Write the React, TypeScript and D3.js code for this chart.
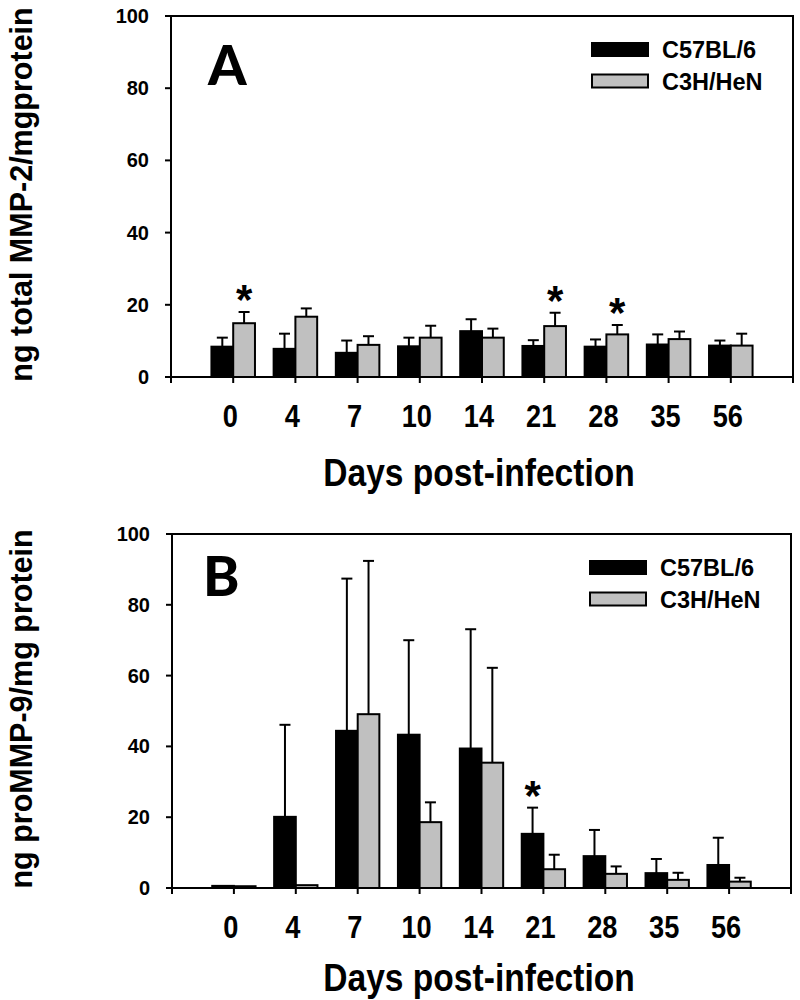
import React from "react";
import * as d3 from "d3";

const days = ["0", "4", "7", "10", "14", "21", "28", "35", "56"];
const seriesNames = ["C57BL/6", "C3H/HeN"];

// Panel A: total MMP-2
const mmp2C57 = [8.4, 7.8, 6.7, 8.5, 12.7, 8.6, 8.4, 9.0, 8.7];
const mmp2C57Err = [2.5, 4.2, 3.4, 2.4, 3.3, 1.6, 2.0, 2.8, 1.4];
const mmp2C3H = [14.9, 16.7, 8.9, 10.9, 10.9, 14.1, 11.8, 10.5, 8.7];
const mmp2C3HErr = [3.1, 2.3, 2.4, 3.3, 2.5, 3.7, 2.6, 2.1, 3.3];
const mmp2Star = [
  { day: "0", series: 1 },
  { day: "21", series: 1 },
  { day: "28", series: 1 },
];

// Panel B: proMMP-9
const mmp9C57 = [0.6, 20.1, 44.4, 43.3, 39.4, 15.3, 9.0, 4.2, 6.5];
const mmp9C57Err = [0, 26.0, 43.0, 26.7, 33.7, 7.4, 7.4, 4.0, 7.7];
const mmp9C3H = [0.5, 0.8, 49.1, 18.6, 35.4, 5.3, 4.0, 2.3, 1.8];
const mmp9C3HErr = [0, 0, 43.3, 5.6, 26.8, 4.1, 2.1, 2.0, 1.1];
const mmp9Star = [{ day: "21", series: 0 }];

const yTicks = [0, 20, 40, 60, 80, 100];

const FILLS = ["#000000", "#c0c0c0"];
const SANS = "'Liberation Sans', Arial, sans-serif";
const NARROW_SCALE = 0.85;

type PanelProps = {
  letter: string;
  yTitle: string;
  c57: number[];
  c57Err: number[];
  c3h: number[];
  c3hErr: number[];
  stars: { day: string; series: number }[];
  x0: number;
  x1: number;
  yTop: number;
  yBottom: number;
  letterX: number;
  letterY: number;
  legendX: number;
  legendY: number;
  titleY: number;
};

function Panel(p: PanelProps) {
  const x = d3.scaleLinear().domain([0, days.length + 1]).range([p.x0, p.x1]);
  const y = d3.scaleLinear().domain([0, 100]).range([p.yBottom, p.yTop]);
  const slot = x(1) - x(0);
  const inner = d3
    .scaleBand()
    .domain(seriesNames)
    .range([-slot * 0.35, slot * 0.35])
    .padding(0);
  const bw = inner.bandwidth();
  const means = [p.c57, p.c3h];
  const errs = [p.c57Err, p.c3hErr];
  const cx = (i: number) => x(i + 1);
  const tickPositions = d3.range(0, days.length + 2);

  return (
    <g>
      {/* bars */}
      {days.map((d, i) =>
        seriesNames.map((s, k) => {
          const v = means[k][i];
          const e = errs[k][i];
          const bx = cx(i) + (inner(s) as number);
          const mid = bx + bw / 2;
          return (
            <g key={d + s}>
              {e > 0 && (
                <g stroke="#000" strokeWidth={2}>
                  <line x1={mid} x2={mid} y1={y(v)} y2={y(v + e)} />
                  <line x1={mid - 5.5} x2={mid + 5.5} y1={y(v + e)} y2={y(v + e)} />
                </g>
              )}
              <rect
                x={bx}
                y={y(v)}
                width={bw}
                height={y(0) - y(v)}
                fill={FILLS[k]}
                stroke="#000"
                strokeWidth={2}
              />
            </g>
          );
        })
      )}
      {/* stars */}
      {p.stars.map((st) => {
        const i = days.indexOf(st.day);
        const s = seriesNames[st.series];
        const mid = cx(i) + (inner(s) as number) + bw / 2;
        const top = y(means[st.series][i] + errs[st.series][i]);
        return (
          <text
            key={st.day + s}
            x={mid}
            y={top + 2}
            textAnchor="middle"
            fontFamily={SANS}
            fontWeight="bold"
            fontSize={42}
          >
            *
          </text>
        );
      })}
      {/* frame */}
      <rect
        x={p.x0}
        y={p.yTop}
        width={p.x1 - p.x0}
        height={p.yBottom - p.yTop}
        fill="none"
        stroke="#000"
        strokeWidth={2}
      />
      {/* y ticks */}
      {yTicks.map((t) => (
        <g key={t}>
          <line x1={p.x0 - 6} x2={p.x0} y1={y(t)} y2={y(t)} stroke="#000" strokeWidth={2} />
          <text
            x={p.x0 - 22}
            y={y(t) + 7}
            textAnchor="end"
            fontFamily={SANS}
            fontWeight="bold"
            fontSize={20}
          >
            {t}
          </text>
        </g>
      ))}
      {/* x ticks */}
      {tickPositions.map((t) => (
        <line
          key={t}
          x1={x(t)}
          x2={x(t)}
          y1={p.yBottom}
          y2={p.yBottom + 6}
          stroke="#000"
          strokeWidth={2}
        />
      ))}
      {days.map((d, i) => (
        <text
          key={d}
          transform={`translate(${cx(i) - 3}, ${p.yBottom + 50}) scale(${NARROW_SCALE}, 1)`}
          textAnchor="middle"
          fontFamily={SANS}
          fontWeight="bold"
          fontSize={32}
        >
          {d}
        </text>
      ))}
      <text
        transform={`translate(479, ${p.titleY}) scale(${NARROW_SCALE}, 1)`}
        textAnchor="middle"
        fontFamily={SANS}
        fontWeight="bold"
        fontSize={39.5}
      >
        Days post-infection
      </text>
      {/* y title */}
      <text
        transform={`translate(32, ${(p.yTop + p.yBottom) / 2 - 2}) rotate(-90)`}
        textAnchor="middle"
        fontFamily={SANS}
        fontWeight="bold"
        fontSize={30.5}
      >
        {p.yTitle}
      </text>
      {/* panel letter */}
      <text
        x={p.letterX}
        y={p.letterY}
        fontFamily="Lato, 'DejaVu Sans', sans-serif"
        fontWeight={900}
        fontSize={55}
      >
        {p.letter}
      </text>
      {/* legend */}
      {seriesNames.map((s, k) => (
        <g key={s}>
          <rect
            x={p.legendX}
            y={p.legendY + k * 31.5}
            width={56}
            height={13}
            fill={FILLS[k]}
            stroke="#000"
            strokeWidth={2}
          />
          <text
            x={p.legendX + 70}
            y={p.legendY + k * 31.5 + 15}
            fontFamily={SANS}
            fontWeight="bold"
            fontSize={23.5}
          >
            {s}
          </text>
        </g>
      ))}
    </g>
  );
}

export default function App() {
  return (
    <svg
      width={800}
      height={1000}
      style={{ position: "absolute", left: 0, top: 0, background: "#fff" }}
    >
      <rect width={800} height={1000} fill="#fff" />
      <Panel
        letter="A"
        yTitle="ng total MMP-2/mgprotein"
        c57={mmp2C57}
        c57Err={mmp2C57Err}
        c3h={mmp2C3H}
        c3hErr={mmp2C3HErr}
        stars={mmp2Star}
        x0={171}
        x1={793}
        yTop={16}
        yBottom={377}
        letterX={208}
        letterY={85}
        legendX={592}
        legendY={43}
        titleY={486}
      />
      <Panel
        letter="B"
        yTitle="ng proMMP-9/mg protein"
        c57={mmp9C57}
        c57Err={mmp9C57Err}
        c3h={mmp9C3H}
        c3hErr={mmp9C3HErr}
        stars={mmp9Star}
        x0={172}
        x1={791}
        yTop={534}
        yBottom={888}
        letterX={203}
        letterY={596}
        legendX={590}
        legendY={561}
        titleY={991}
      />
    </svg>
  );
}
